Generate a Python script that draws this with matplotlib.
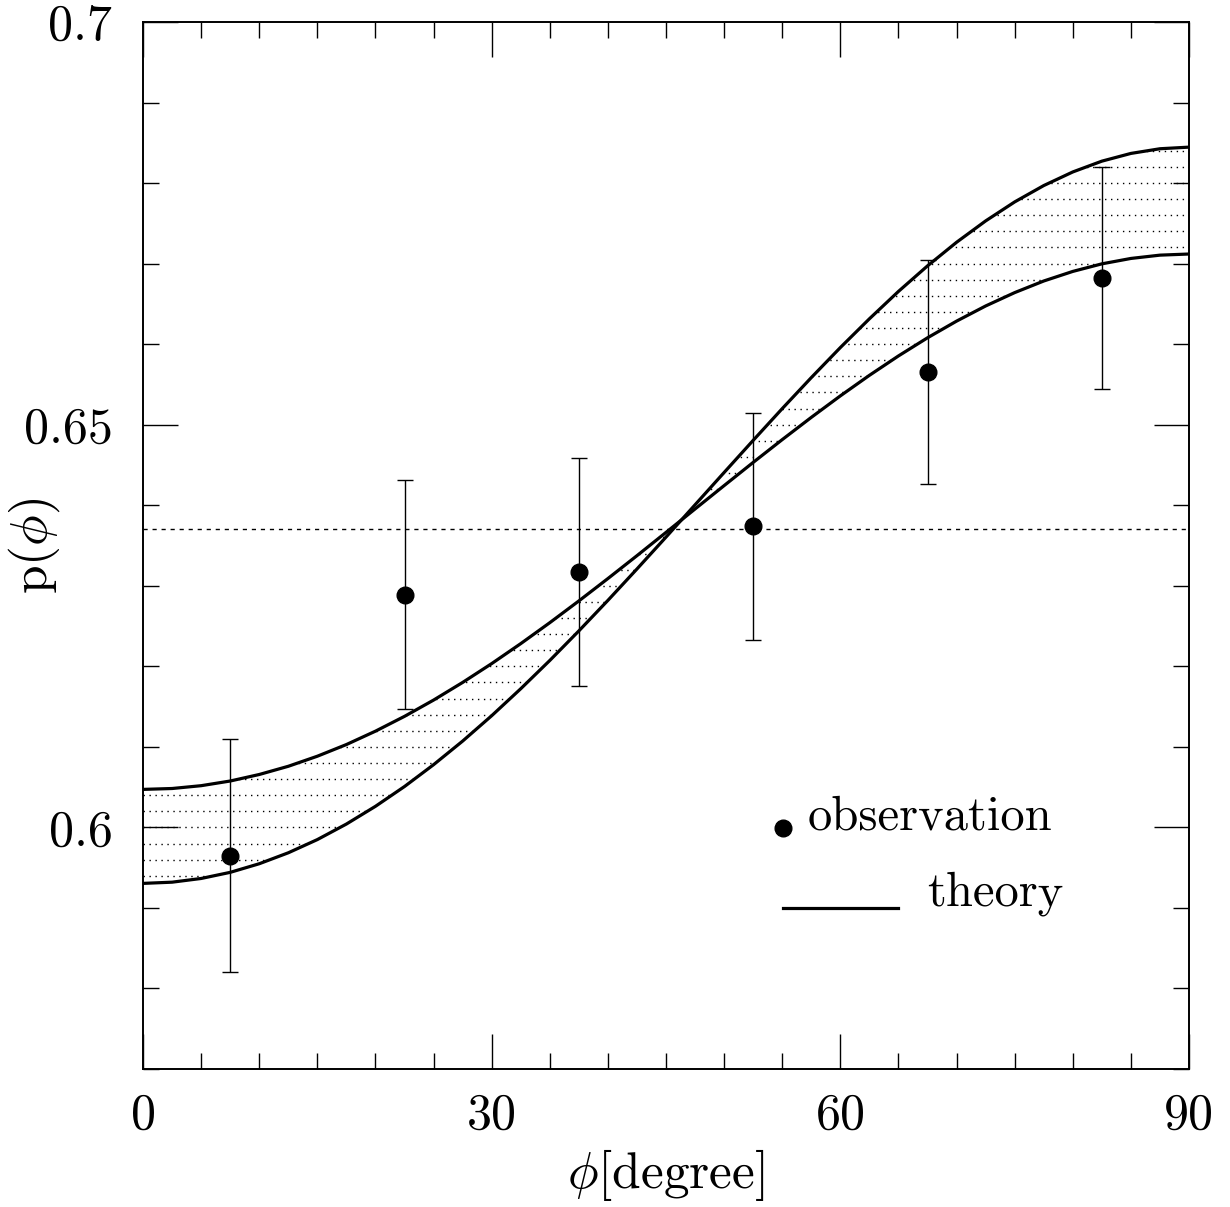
import numpy as np
import matplotlib
matplotlib.use('Agg')
import matplotlib.pyplot as plt
from matplotlib.ticker import MultipleLocator

plt.rcParams['font.family'] = 'cmr10'
plt.rcParams['mathtext.fontset'] = 'cm'
plt.rcParams['axes.unicode_minus'] = False

# observed p(phi) in 15 degree bins
obs_phi = [7.5, 22.5, 37.5, 52.5, 67.5, 82.5]
obs_p = [0.5965, 0.6289, 0.6317, 0.6374, 0.6565, 0.6682]
obs_err = [0.0145, 0.0142, 0.0142, 0.0141, 0.0139, 0.0138]

# flat (isotropic) level
p_flat = 0.6370

# the two theory curves bounding the band, read every 2.5 degrees
theory_phi = np.linspace(0, 90, 37)
theory_steep = [0.59305, 0.59320, 0.59366, 0.59442, 0.59549, 0.59685, 0.59849,
                0.60042, 0.60262, 0.60508, 0.60779, 0.61072, 0.61387, 0.61722,
                0.62073, 0.62440, 0.62819, 0.63209, 0.63605, 0.64006, 0.64407,
                0.64806, 0.65200, 0.65585, 0.65958, 0.66315, 0.66655, 0.66972,
                0.67265, 0.67530, 0.67766, 0.67969, 0.68138, 0.68272, 0.68368,
                0.68426, 0.68446]
theory_shallow = [0.60472, 0.60483, 0.60518, 0.60576, 0.60657, 0.60759, 0.60884,
                  0.61029, 0.61195, 0.61379, 0.61581, 0.61800, 0.62034, 0.62282,
                  0.62542, 0.62812, 0.63090, 0.63374, 0.63663, 0.63954, 0.64244,
                  0.64532, 0.64815, 0.65091, 0.65358, 0.65613, 0.65854, 0.66079,
                  0.66286, 0.66474, 0.66640, 0.66784, 0.66903, 0.66997, 0.67064,
                  0.67105, 0.67119]

fig = plt.figure(figsize=(12.3, 12.07), dpi=100)
ax = fig.add_axes([0.1163, 0.1143, 0.8504, 0.8675])

# dotted horizontal hatching between the two curves
band = ax.fill_between(theory_phi, theory_steep, theory_shallow,
                       facecolor='none', edgecolor='none')
levels = np.arange(0.570, 0.7001, 0.002)
hatch = ax.hlines(levels, 0, 90, colors='black', linewidth=1.0,
                  linestyles=[(0, (1, 3.3))])
hatch.set_clip_path(band.get_paths()[0], ax.transData)

ax.plot(theory_phi, theory_steep, color='black', lw=2.3)
ax.plot(theory_phi, theory_shallow, color='black', lw=2.3)

ax.axhline(p_flat, color='black', lw=1.0, linestyle=(0, (3, 3.5)))

ax.errorbar(obs_phi, obs_p, yerr=obs_err, fmt='o', color='black', ms=12,
            elinewidth=1.0, capsize=6, capthick=1.0, zorder=5)

# key
ax.plot([0.612], [0.2302], 'o', color='black', ms=12, transform=ax.transAxes)
ax.text(0.6358, 0.2289, 'observation', transform=ax.transAxes,
        fontsize=35, va='baseline')
ax.plot([0.6119, 0.7218], [0.1538, 0.1538], color='black', lw=2.3,
        transform=ax.transAxes)
ax.text(0.7495, 0.1566, 'theory', transform=ax.transAxes,
        fontsize=35, va='baseline')

ax.set_xlim(0, 90)
ax.set_ylim(0.57, 0.70)
ax.set_xticks([0, 30, 60, 90], labels=['0', '30', '60', '90'])
ax.xaxis.set_minor_locator(MultipleLocator(5))
ax.set_yticks([0.6, 0.65, 0.7], labels=['0.6', '0.65', '0.7'])
ax.yaxis.set_minor_locator(MultipleLocator(0.01))

ax.tick_params(which='both', direction='in', top=True, right=True, width=1.0)
ax.tick_params(which='major', length=25, labelsize=36)
ax.tick_params(which='minor', length=11.5)
ax.tick_params(axis='x', pad=17)
ax.tick_params(axis='y', pad=22)
for s in ax.spines.values():
    s.set_linewidth(1.4)

ax.set_xlabel(r'$\phi[\mathrm{degree}]$', fontsize=37, labelpad=6)
ax.set_ylabel(r'$\mathrm{p}(\phi)$', fontsize=37)
ax.yaxis.set_label_coords(-0.0774, 0.5)

plt.savefig('out.png', dpi=100)
